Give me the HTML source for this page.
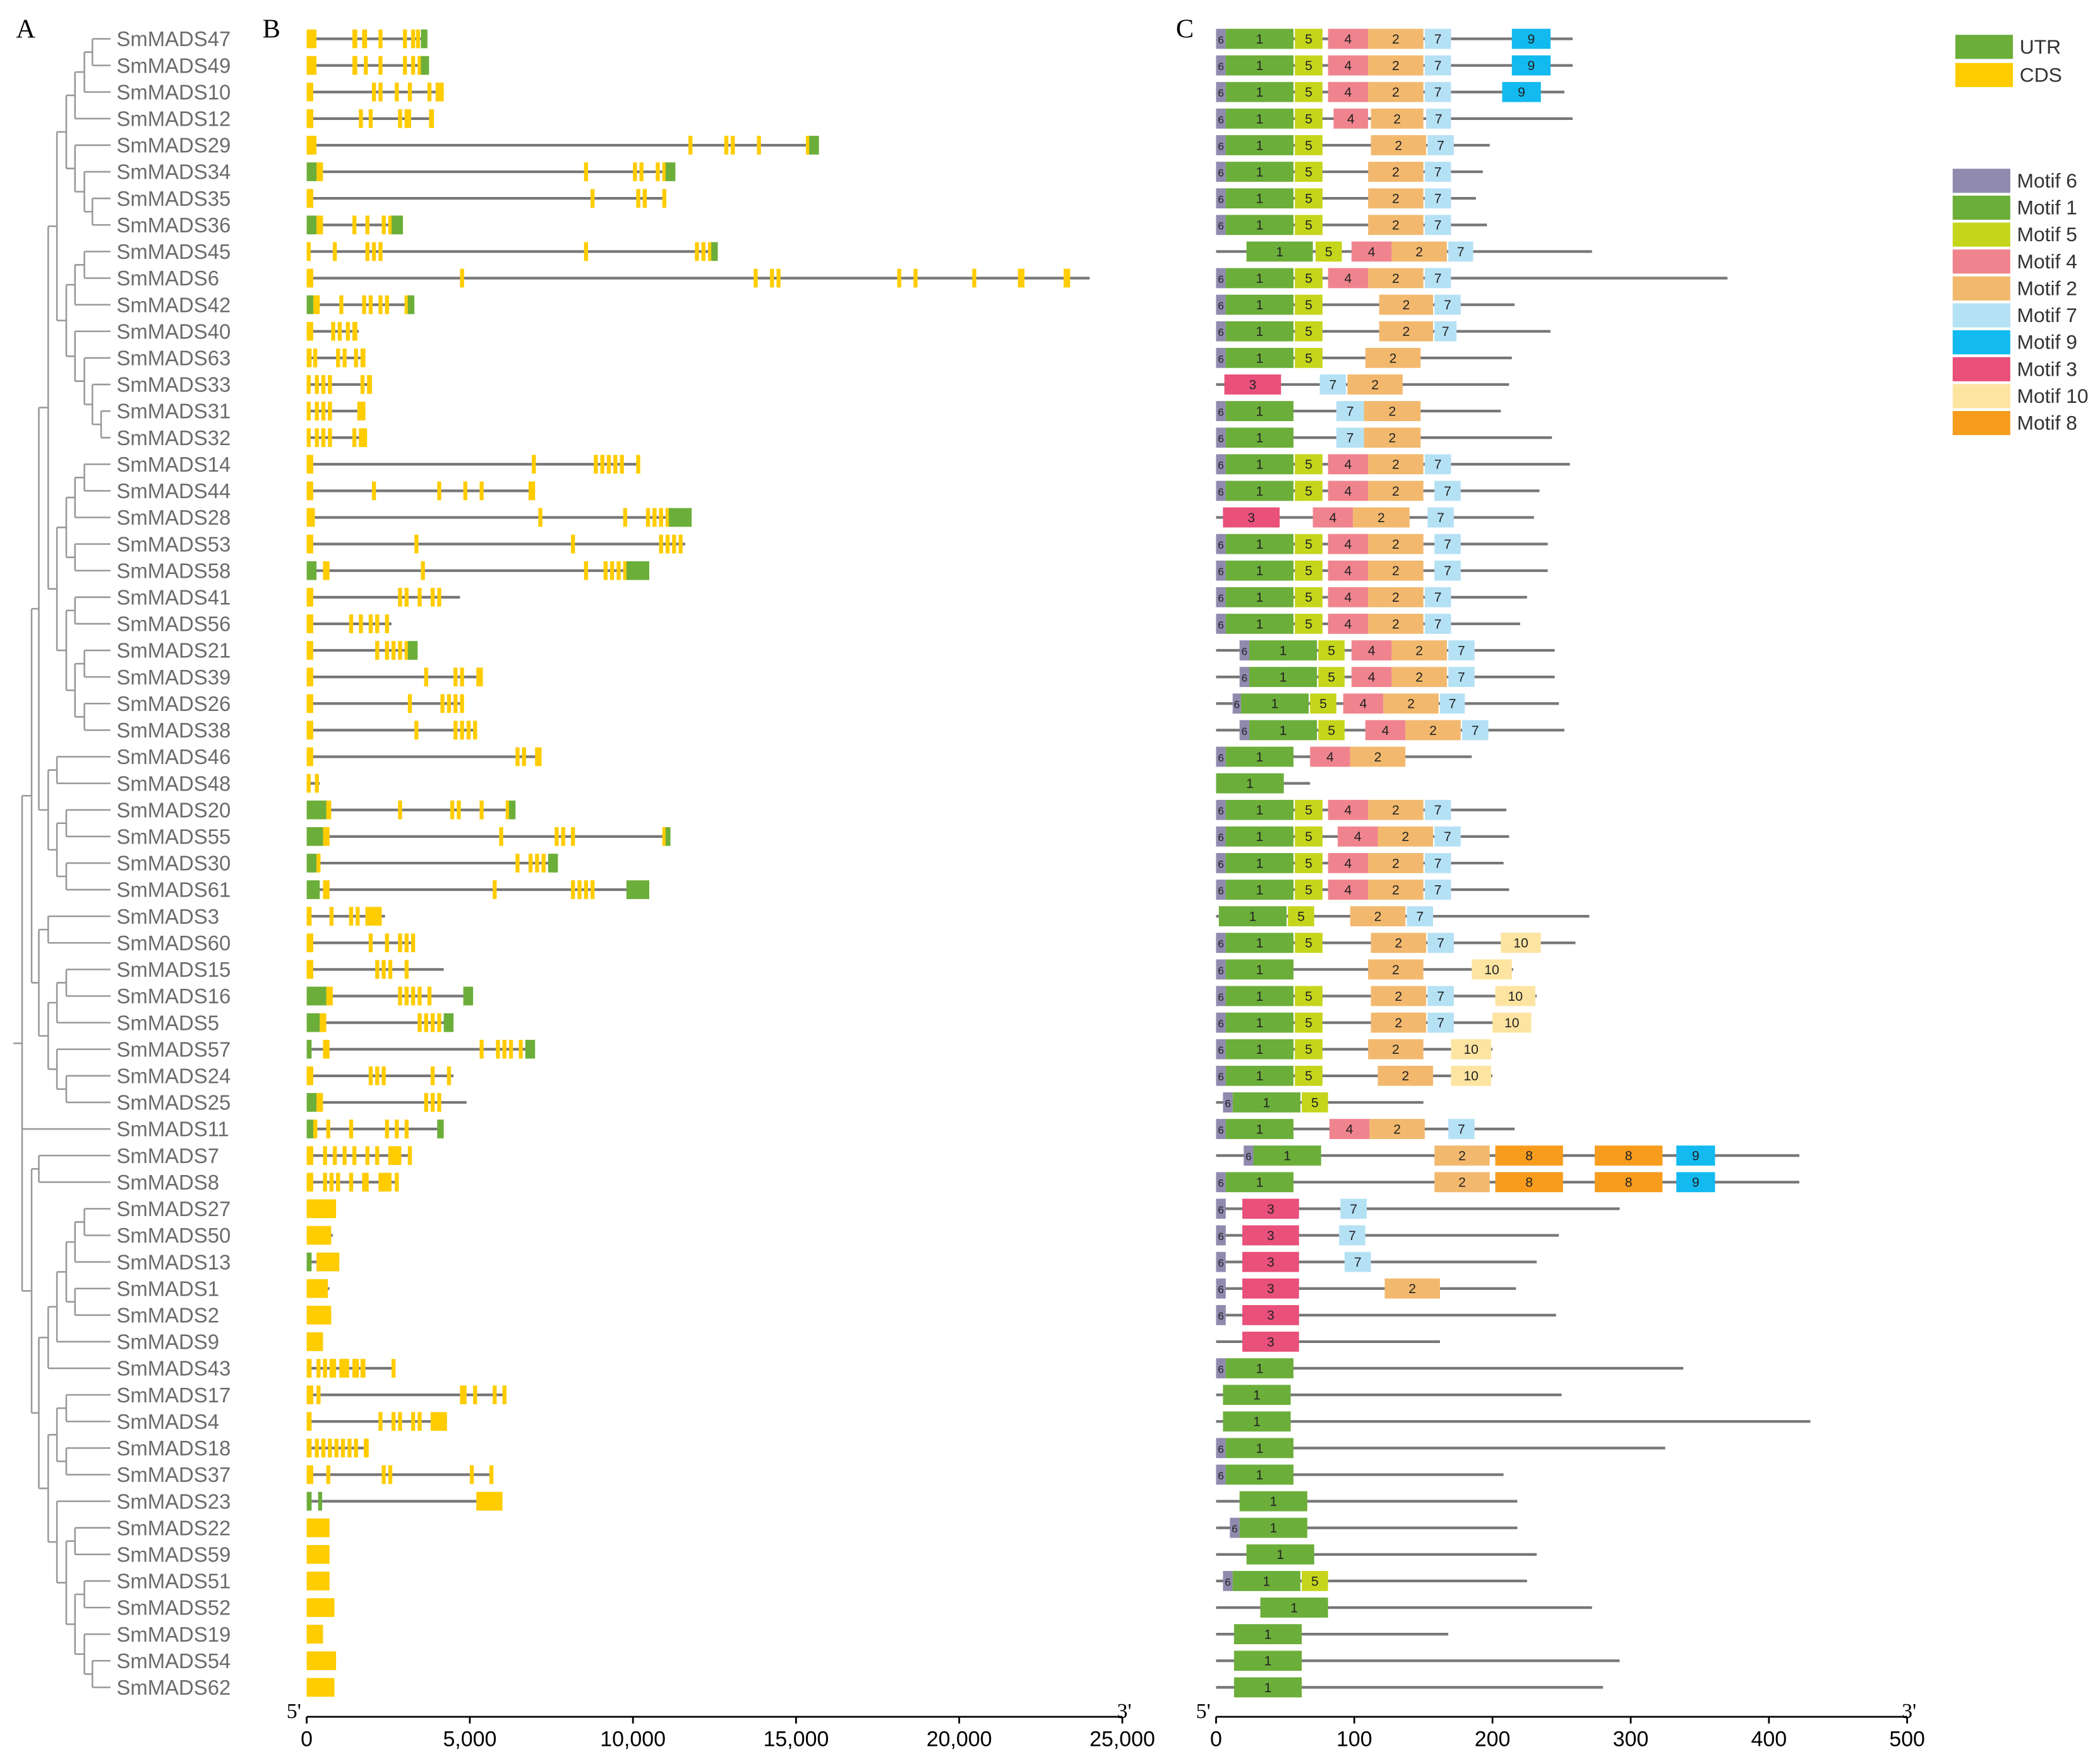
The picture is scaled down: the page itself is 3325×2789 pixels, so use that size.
<!DOCTYPE html>
<html><head><meta charset="utf-8"><style>
html,body{margin:0;padding:0;background:#fff}
svg{display:block}
</style></head><body>
<svg id="fig" xmlns="http://www.w3.org/2000/svg" width="3325" height="2789" viewBox="0 0 1568 1315" preserveAspectRatio="none" font-family="Liberation Sans, sans-serif">
<g id="panelA"></g>
<g id="panelB"></g>
<g id="panelC"></g>
<g id="legend"></g>
</svg>
<script>
const genes=["SmMADS47","SmMADS49","SmMADS10","SmMADS12","SmMADS29","SmMADS34","SmMADS35","SmMADS36","SmMADS45","SmMADS6","SmMADS42","SmMADS40","SmMADS63","SmMADS33","SmMADS31","SmMADS32","SmMADS14","SmMADS44","SmMADS28","SmMADS53","SmMADS58","SmMADS41","SmMADS56","SmMADS21","SmMADS39","SmMADS26","SmMADS38","SmMADS46","SmMADS48","SmMADS20","SmMADS55","SmMADS30","SmMADS61","SmMADS3","SmMADS60","SmMADS15","SmMADS16","SmMADS5","SmMADS57","SmMADS24","SmMADS25","SmMADS11","SmMADS7","SmMADS8","SmMADS27","SmMADS50","SmMADS13","SmMADS1","SmMADS2","SmMADS9","SmMADS43","SmMADS17","SmMADS4","SmMADS18","SmMADS37","SmMADS23","SmMADS22","SmMADS59","SmMADS51","SmMADS52","SmMADS19","SmMADS54","SmMADS62"];
const geneLengths=[3700,3750,4200,3900,15700,11300,11000,2950,12600,24000,3300,1600,1800,2000,1800,1850,10200,7000,11800,11600,10500,4700,2600,3400,5400,4800,5200,7200,400,6400,11150,7700,10500,2400,3300,4200,5100,4500,7000,4500,4900,4200,3200,2800,900,800,1000,700,750,500,2700,6100,4300,1900,5700,6000,700,700,700,850,500,900,850];
const exons=[
[[0,300],[1400,1550],[1700,1850],[2200,2300],[2950,3050],[3200,3300],[3350,3450]],
[[0,300],[1400,1550],[1750,1850],[2200,2300],[2950,3050],[3200,3300],[3400,3500]],
[[0,200],[2000,2100],[2200,2300],[2700,2800],[3100,3200],[3700,3800],[3950,4200]],
[[0,200],[1600,1700],[1900,2000],[2800,2900],[3000,3200],[3750,3900]],
[[0,300],[11700,11800],[12800,12900],[13000,13100],[13800,13900],[15300,15400]],
[[300,500],[8500,8600],[10000,10100],[10200,10300],[10700,10800],[10900,11000]],
[[0,200],[8700,8800],[10100,10200],[10300,10400],[10900,11000]],
[[300,500],[1400,1500],[1800,1900],[2300,2400],[2500,2600]],
[[0,100],[800,900],[1800,1900],[2000,2100],[2200,2300],[8500,8600],[11900,12000],[12100,12200],[12300,12400]],
[[0,200],[4700,4800],[13700,13800],[14200,14300],[14400,14500],[18100,18200],[18600,18700],[20400,20500],[21800,22000],[23200,23400]],
[[200,400],[1000,1100],[1700,1800],[1900,2000],[2200,2300],[2400,2500],[3000,3100]],
[[0,200],[750,850],[950,1050],[1200,1300],[1400,1550]],
[[0,150],[200,300],[900,1000],[1100,1200],[1450,1550],[1650,1800]],
[[0,100],[250,350],[450,550],[650,750],[1650,1750],[1850,2000]],
[[0,100],[250,350],[450,550],[650,750],[1550,1800]],
[[0,100],[250,350],[450,550],[650,750],[1400,1500],[1600,1850]],
[[0,200],[6900,7000],[8800,8900],[9000,9100],[9200,9300],[9400,9500],[9600,9700],[10100,10200]],
[[0,200],[2000,2100],[4000,4100],[4800,4900],[5300,5400],[6800,7000]],
[[0,250],[7100,7200],[9700,9800],[10400,10500],[10600,10700],[10800,10900],[11000,11100]],
[[0,200],[3300,3400],[8100,8200],[10800,10900],[11000,11100],[11200,11300],[11400,11500]],
[[500,700],[3500,3600],[8500,8600],[9100,9200],[9300,9400],[9500,9600],[9700,9800]],
[[0,200],[2800,2900],[3000,3100],[3400,3500],[3800,3900],[4000,4100]],
[[0,200],[1300,1400],[1600,1700],[1900,2000],[2100,2200],[2400,2500]],
[[0,200],[2100,2200],[2400,2500],[2600,2700],[2800,2900],[3000,3100]],
[[0,200],[3600,3700],[4500,4600],[4700,4800],[5200,5400]],
[[0,200],[3100,3200],[4100,4200],[4300,4400],[4500,4600],[4700,4800]],
[[0,200],[3300,3400],[4500,4600],[4700,4800],[4900,5000],[5100,5200]],
[[0,200],[6400,6500],[6600,6700],[7000,7200]],
[[0,100],[250,350]],
[[600,750],[2800,2900],[4400,4500],[4600,4700],[5300,5400],[6100,6200]],
[[500,700],[5900,6000],[7600,7700],[7800,7900],[8100,8200],[10900,11000]],
[[300,400],[6400,6500],[6800,6900],[7000,7100],[7200,7300]],
[[500,700],[5700,5800],[8100,8200],[8300,8400],[8500,8600],[8700,8800]],
[[0,150],[700,800],[1300,1400],[1500,1600],[1800,1900],[1900,2300]],
[[0,200],[1900,2000],[2400,2500],[2800,2900],[3000,3100],[3200,3300]],
[[0,200],[2100,2200],[2300,2400],[2500,2600],[3000,3100]],
[[600,800],[2800,2900],[3000,3100],[3200,3300],[3400,3500],[3700,3800]],
[[400,600],[3400,3500],[3600,3700],[3800,3900],[4000,4100]],
[[500,700],[5300,5400],[5800,5900],[6000,6100],[6200,6300],[6500,6600]],
[[0,200],[1900,2000],[2100,2200],[2300,2400],[3800,3900],[4300,4400]],
[[300,500],[3600,3700],[3800,3900],[4000,4100]],
[[200,300],[600,700],[1300,1400],[2400,2500],[2700,2800],[3000,3100]],
[[0,200],[500,600],[800,900],[1100,1200],[1400,1500],[1800,1900],[2100,2200],[2500,2900],[3100,3200]],
[[0,200],[500,600],[700,800],[900,1000],[1300,1400],[1700,1900],[2200,2600],[2700,2800]],
[[0,900]],[[0,750]],[[300,1000]],[[0,650]],[[0,750]],[[0,500]],
[[0,150],[300,400],[500,600],[700,900],[1000,1300],[1400,1600],[1650,1800],[2600,2700]],
[[0,200],[300,400],[4700,4900],[5100,5200],[5700,5800],[6000,6100]],
[[0,150],[2200,2300],[2600,2700],[2800,2900],[3200,3300],[3400,3500],[3800,4300]],
[[0,150],[250,350],[450,550],[650,750],[850,950],[1050,1150],[1250,1350],[1450,1550],[1750,1900]],
[[0,200],[600,700],[2300,2400],[2500,2600],[5000,5100],[5600,5700]],
[[5200,6000]],
[[0,700]],[[0,700]],[[0,700]],[[0,850]],[[0,500]],[[0,900]],[[0,850]]
];
const utrs={0:[[3500,3700]],1:[[3500,3750]],4:[[15400,15700]],5:[[0,300],[11000,11300]],7:[[0,300],[2600,2950]],8:[[12400,12600]],10:[[0,200],[3100,3300]],18:[[11100,11800]],20:[[0,300],[9800,10500]],23:[[3100,3400]],29:[[0,600],[6200,6400]],30:[[0,500],[11000,11150]],31:[[0,300],[7400,7700]],32:[[0,400],[9800,10500]],36:[[0,600],[4800,5100]],37:[[0,400],[4200,4500]],38:[[0,150],[6700,7000]],40:[[0,300]],41:[[0,200],[4000,4200]],46:[[0,150]],55:[[0,150],[350,450]]};
const proteinLengths=[258,258,252,258,198,193,188,196,272,370,216,242,214,212,206,243,256,234,230,240,240,225,220,245,245,248,252,185,68,210,212,208,212,270,260,215,232,228,200,200,150,216,422,422,292,248,232,217,246,162,338,250,430,325,208,218,218,232,225,272,168,292,280];
const S=[6,0,7],M1=[1,7,56],M5=[5,57,77],M4=[4,81,110],M2=[2,110,150],M7=[7,151,170];
const motifs=[
[S,M1,M5,M4,M2,M7,[9,214,242]],[S,M1,M5,M4,M2,M7,[9,214,242]],[S,M1,M5,M4,M2,M7,[9,207,235]],
[S,M1,M5,[4,85,110],[2,112,150],[7,152,170]],[S,M1,M5,[2,112,152],[7,153,172]],
[S,M1,M5,M2,M7],[S,M1,M5,M2,M7],[S,M1,M5,M2,M7],
[[1,22,70],[5,72,91],[4,98,127],[2,127,167],[7,168,186]],
[S,M1,M5,M4,M2,M7],[S,M1,M5,[2,118,157],[7,158,177]],[S,M1,M5,[2,118,157],[7,158,174]],
[S,M1,M5,[2,108,148]],[[3,6,47],[7,75,94],[2,95,135]],[S,M1,[7,87,107],[2,107,148]],[S,M1,[7,87,107],[2,107,148]],
[S,M1,M5,M4,M2,M7],[S,M1,M5,M4,M2,[7,158,177]],[[3,5,46],[4,70,99],[2,99,140],[7,153,172]],
[S,M1,M5,M4,M2,[7,158,177]],[S,M1,M5,M4,M2,[7,158,177]],[S,M1,M5,M4,M2,M7],[S,M1,M5,M4,M2,M7],
[[6,17,24],[1,24,73],[5,74,93],[4,98,127],[2,127,167],[7,168,187]],
[[6,17,24],[1,24,73],[5,74,93],[4,98,127],[2,127,167],[7,168,187]],
[[6,12,18],[1,18,67],[5,68,87],[4,92,121],[2,121,161],[7,162,180]],
[[6,17,24],[1,24,73],[5,74,93],[4,108,137],[2,137,177],[7,178,197]],
[S,M1,[4,68,97],[2,97,137]],[[1,0,49]],
[S,M1,M5,M4,M2,M7],[S,M1,M5,[4,88,117],[2,117,157],[7,158,177]],[S,M1,M5,M4,M2,M7],[S,M1,M5,M4,M2,M7],
[[1,2,51],[5,52,71],[2,97,137],[7,138,157]],
[S,M1,M5,[2,112,152],[7,153,172],[10,206,235]],[S,M1,M2,[10,185,214]],
[S,M1,M5,[2,112,152],[7,153,172],[10,202,231]],[S,M1,M5,[2,112,152],[7,153,172],[10,200,228]],
[S,M1,M5,M2,[10,170,199]],[S,M1,M5,[2,117,157],[10,170,199]],
[[6,5,12],[1,12,61],[5,62,81]],[S,M1,[4,82,111],[2,111,151],[7,168,187]],
[[6,20,27],[1,27,76],[2,158,198],[8,202,251],[8,274,323],[9,333,361]],
[S,M1,[2,158,198],[8,202,251],[8,274,323],[9,333,361]],
[S,[3,19,60],[7,90,109]],[S,[3,19,60],[7,89,108]],[S,[3,19,60],[7,93,112]],[S,[3,19,60],[2,122,162]],[S,[3,19,60]],[[3,19,60]],
[S,M1],[[1,5,54]],[[1,5,54]],[S,M1],[S,M1],[[1,17,66]],[[6,10,17],[1,17,66]],[[1,22,71]],
[[6,5,12],[1,12,61],[5,62,81]],[[1,32,81]],[[1,13,62]],[[1,13,62]],[[1,13,62]]
];
const motifColors={6:"#8f8aae",1:"#6cae3a",5:"#c5d51c",4:"#f0848e",2:"#f2b96e",7:"#b5e1f5",9:"#12baf0",3:"#e9507a",10:"#fde4a1",8:"#f89c1e"};
const legendMotifs=[6,1,5,4,2,7,9,3,10,8];
const bTicks=[0,5000,10000,15000,20000,25000];
const cTicks=[0,100,200,300,400,500];
// tree: node = [depthX, child, child, ...]; leaves = row index
function n(x,...c){return {x:x,c:c};}
const A_=n(42.5,n(49.5,n(56,n(63,n(69,0,1),2),3),n(56,4,n(63,5,n(69,6,7)))),n(49.5,n(56,n(63,8,9),10),n(56,11,n(63,12,n(69,13,n(75.5,14,15))))));
const B_=n(42.5,n(49.5,n(56,n(63,16,17),18),n(56,19,20)),n(49.5,n(56,21,22),n(56,n(63,23,24),n(63,25,26))));
const G_=n(36,n(42.5,27,28),n(42.5,n(49.5,29,30),n(49.5,31,32)));
const C_=n(29,n(36,33,34),n(36,n(42.5,n(49.5,35,36),37),n(42.5,38,n(49.5,39,40))));
const E_=n(36,n(42.5,n(49.5,n(56,n(63,44,45),46),n(56,47,48)),49),50);
const F_=n(36,n(42.5,n(49.5,51,52),n(49.5,53,54)),n(42.5,55,n(49.5,n(56,56,57),n(56,n(63,58,59),n(63,60,n(69,61,62))))));
const tree=n(16.5,n(23.6,n(29,n(36,A_,B_),G_),C_),41,n(23.6,n(29,42,43),n(29,E_,F_)));

const NS="http://www.w3.org/2000/svg";
function mk(tag,attrs,parent){const e=document.createElementNS(NS,tag);for(const k in attrs)e.setAttribute(k,attrs[k]);parent.appendChild(e);return e;}
const rowY=i=>29+i*19.855;
const bx=v=>229+v*(609/25000);
const cx=v=>908+v*(516/500);
const A=document.getElementById('panelA'),B=document.getElementById('panelB'),C=document.getElementById('panelC'),L=document.getElementById('legend');
const fig=document.getElementById('fig');
[["A",12,28],["B",196,28],["C",878,28]].forEach(p=>{const t=mk('text',{x:p[1],y:p[2],'font-size':20,'font-family':'Liberation Serif, serif',fill:'#000'},fig);t.textContent=p[0];

});

const tip=82.5;
function draw(nd){
 if(typeof nd==='number')return{x:tip,y:rowY(nd)};
 const ch=nd.c.map(draw);const x=nd.x;
 let d=`M${x},${ch[0].y}V${ch[ch.length-1].y}`;
 ch.forEach(c=>{d+=`M${x},${c.y}H${c.x}`;});
 const br=mk('path',{d:d,fill:'none',stroke:'#999','stroke-width':1.2},A);
 
 
 return{x:x,y:(ch[0].y+ch[ch.length-1].y)/2};}
const r=draw(tree);
mk('line',{x1:10,y1:r.y,x2:r.x,y2:r.y,stroke:'#999','stroke-width':1.2},A);
genes.forEach((g,i)=>{const t=mk('text',{x:87,y:rowY(i)+5.5,'font-size':15.5,fill:'#6b6b6b'},A);t.textContent=g;

});

geneLengths.forEach((len,i)=>{const y=rowY(i);
 const ln=mk('line',{x1:bx(0),x2:bx(len),y1:y,y2:y,stroke:'#777','stroke-width':2},B);
 
 
 exons[i].forEach(e=>{const x0=bx(e[0]),x1=Math.max(bx(e[1]),x0+3);
  const rc=mk('rect',{x:x0,y:y-7,width:x1-x0,height:14,fill:'#ffcc00'},B);
  
  });
 (utrs[i]||[]).forEach(e=>{const x0=bx(e[0]),x1=Math.max(bx(e[1]),x0+3);
  const rc=mk('rect',{x:x0,y:y-7,width:x1-x0,height:14,fill:'#6cae3a'},B);
  
  });
});
function axis(parent,ticks,fx,name){
 const y=1282;
 mk('line',{x1:fx(ticks[0]),x2:fx(ticks[ticks.length-1]),y1:y,y2:y,stroke:'#000','stroke-width':1.3},parent);
 ticks.forEach(t=>{mk('line',{x1:fx(t),x2:fx(t),y1:y,y2:y+5,stroke:'#000','stroke-width':1.3},parent);
  const tx=mk('text',{x:fx(t),y:y+22,'font-size':16,'text-anchor':'middle','font-family':'Liberation Sans, sans-serif',fill:'#000'},parent);
  tx.textContent=t.toLocaleString('en-US');
  
  });
 const t5=mk('text',{x:fx(ticks[0])-15,y:y+1,'font-size':16,'font-family':'Liberation Serif, serif'},parent);t5.textContent="5'";
 
 
 const t3=mk('text',{x:fx(ticks[ticks.length-1])-4,y:y+1,'font-size':16,'font-family':'Liberation Serif, serif'},parent);t3.textContent="3'";
 
 
}
axis(B,bTicks,bx,'bp-axis');

proteinLengths.forEach((len,i)=>{const y=rowY(i);
 const ln=mk('line',{x1:cx(0),x2:cx(len),y1:y,y2:y,stroke:'#777','stroke-width':2},C);
 
 
 motifs[i].forEach(m=>{const x0=cx(m[1]),x1=cx(m[2]);
  const rc=mk('rect',{x:x0,y:y-7.5,width:x1-x0,height:15,fill:motifColors[m[0]]},C);
  
  
  const tx=mk('text',{x:(x0+x1)/2,y:y+3.5,'font-size':m[0]==6?8:10,'text-anchor':'middle',fill:'#222'},C);
  tx.textContent=m[0];
  
  });
});
axis(C,cTicks,cx,'aa-axis');

[["UTR","#6cae3a",35],["CDS","#ffcc00",56]].forEach(l=>{const rc=mk('rect',{x:1460,y:l[2]-9,width:43,height:18,fill:l[1]},L);
 
 
 const t=mk('text',{x:1508,y:l[2]+5,'font-size':15,fill:'#333'},L);t.textContent=l[0];
 
 });
legendMotifs.forEach((m,k)=>{const y=135+k*20.1;
 const rc=mk('rect',{x:1458,y:y-9,width:43,height:18,fill:motifColors[m]},L);
 
 
 const t=mk('text',{x:1506,y:y+5,'font-size':15,fill:'#333'},L);t.textContent='Motif '+m;
 
 });
</script>
</body></html>
